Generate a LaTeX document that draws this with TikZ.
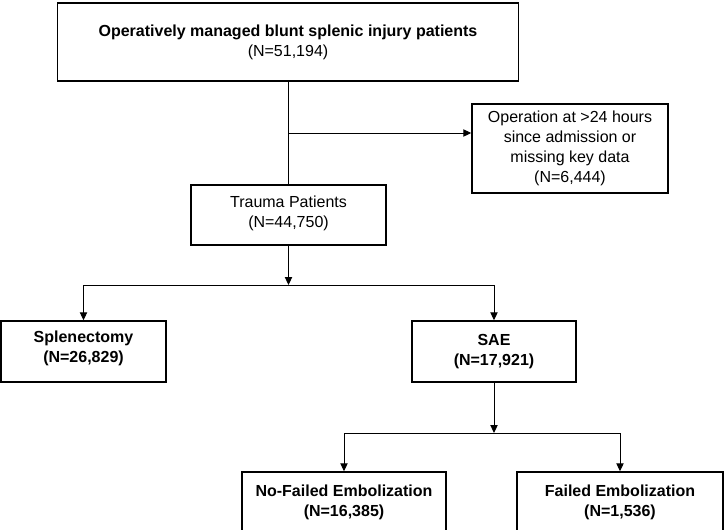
\documentclass[tikz,border=0pt]{standalone}
\usepackage{fontspec}
\setmainfont{Liberation Sans}
\usetikzlibrary{arrows.meta}
\begin{document}
\begin{tikzpicture}[x=0.75pt,y=0.75pt,yscale=-1,xscale=1,
    box/.style={draw, line width=1.1pt, align=center, inner sep=0pt, font=\fontsize{12}{15}\selectfont},
    bbox/.style={box, font=\fontsize{12}{15}\selectfont\bfseries},
    arr/.style={-{Triangle[length=6pt,width=5.5pt]}, line width=0.75pt},
    ln/.style={line width=0.75pt}]
\useasboundingbox (0,0) rectangle (724,529);
\clip (0,0) rectangle (724,529);
%Shape: Rectangle [top]
\node [box, minimum width=345.75pt, minimum height=58.5pt] (top) at (288,42) {\textbf{Operatively managed blunt splenic injury patients}\\(N=51,194)};
%Shape: Rectangle [excluded]
\node [box, minimum width=147pt, minimum height=66.75pt] (excl) at (570,148.5) {Operation at >24 hours\\since admission or\\missing key data\\(N=6,444)};
%Shape: Rectangle [trauma]
\node [box, minimum width=146.25pt, minimum height=45pt, text depth=5pt] (trauma) at (288.5,215) {Trauma Patients\\(N=44,750)};
%Shape: Rectangle [splenectomy]
\node [bbox, minimum width=123.75pt, minimum height=45.75pt, text depth=7pt] (splen) at (83.5,351.5) {Splenectomy\\(N=26,829)};
%Shape: Rectangle [SAE]
\node [bbox, minimum width=123pt, minimum height=45.75pt] (sae) at (494,351.5) {SAE\\(N=17,921)};
%Shape: Rectangle [no failed]
\node [bbox, minimum width=153pt, minimum height=45pt] (nofail) at (344,502) {No-Failed Embolization\\(N=16,385)};
%Shape: Rectangle [failed]
\node [bbox, minimum width=154.5pt, minimum height=45pt] (fail) at (620,502) {Failed Embolization\\(N=1,536)};

% branch points
\coordinate (br1) at (288,133);
\coordinate (sp1) at (288.5,285);
\coordinate (sp2) at (494,433);

%Straight Lines
\draw [ln] (top.south) -- (top.south |- trauma.north);
\draw [arr] (br1) -- (br1 -| excl.west);
\draw [arr] (trauma.south) -- (sp1);
\draw [ln] (splen.north |- sp1) -- (sae.north |- sp1);
\draw [arr] (splen.north |- sp1) -- (splen.north);
\draw [arr] (sae.north |- sp1) -- (sae.north);
\draw [arr] (sae.south) -- (sp2);
\draw [ln] (nofail.north |- sp2) -- (fail.north |- sp2);
\draw [arr] (nofail.north |- sp2) -- (nofail.north);
\draw [arr] (fail.north |- sp2) -- (fail.north);
\end{tikzpicture}
\end{document}
